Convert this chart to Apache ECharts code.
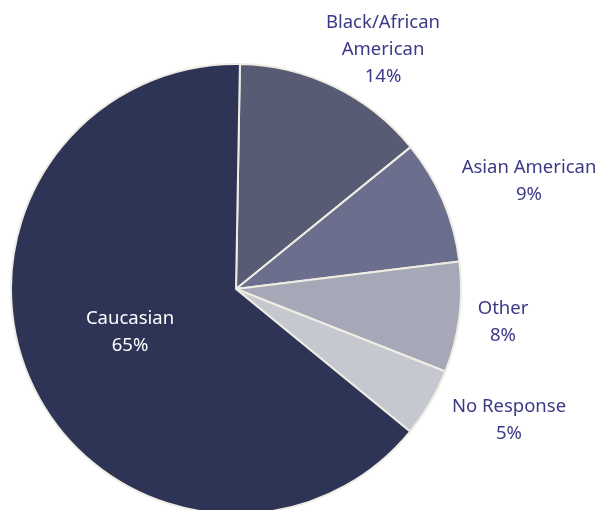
<!DOCTYPE html>
<html>
<head>
<meta charset="utf-8">
<script src="https://cdn.jsdelivr.net/npm/echarts@6/dist/echarts.min.js"></script>
<style>
  html, body { margin: 0; padding: 0; background: #ffffff; }
  #chart { width: 608px; height: 510px; }
</style>
</head>
<body>
<div id="chart"></div>
<script>
// Survey respondents by race / ethnicity (percent)
const categories = ['Black/African\nAmerican', 'Asian American', 'Other', 'No Response', 'Caucasian'];
const percents = [14, 9, 8, 5, 65];
const sliceColors = ['#575b73', '#6b6f8d', '#a6a8b8', '#c6c8d0', '#2e3455'];

// Label anchor points (px) for each slice, in the same order as categories
const labelSpots = [[383, 50], [529, 181], [503, 322], [509, 420], [130, 332]];

const chart = echarts.init(document.getElementById('chart'), null, { renderer: 'canvas' });

chart.setOption({
  backgroundColor: '#ffffff',
  animation: false,
  series: [{
    type: 'pie',
    center: [236, 289],
    radius: 225,
    startAngle: 89,
    clockwise: true,
    avoidLabelOverlap: false,
    data: categories.map((name, i) => ({
      name,
      value: percents[i],
      itemStyle: { color: sliceColors[i] },
      label: { color: i === 4 ? '#ffffff' : '#3c3a86' }
    })),
    itemStyle: { borderColor: '#efede3', borderWidth: 2 },
    label: {
      show: true,
      position: 'outside',
      formatter: p => p.name + '\n' + p.value + '%',
      fontFamily: 'Noto Sans',
      fontSize: 18.5,
      lineHeight: 27,
      align: 'center'
    },
    labelLine: { show: false },
    labelLayout: p => ({
      x: labelSpots[p.dataIndex][0],
      y: labelSpots[p.dataIndex][1],
      align: 'center',
      verticalAlign: 'middle'
    }),
    emphasis: { disabled: true }
  }]
});
</script>
</body>
</html>
